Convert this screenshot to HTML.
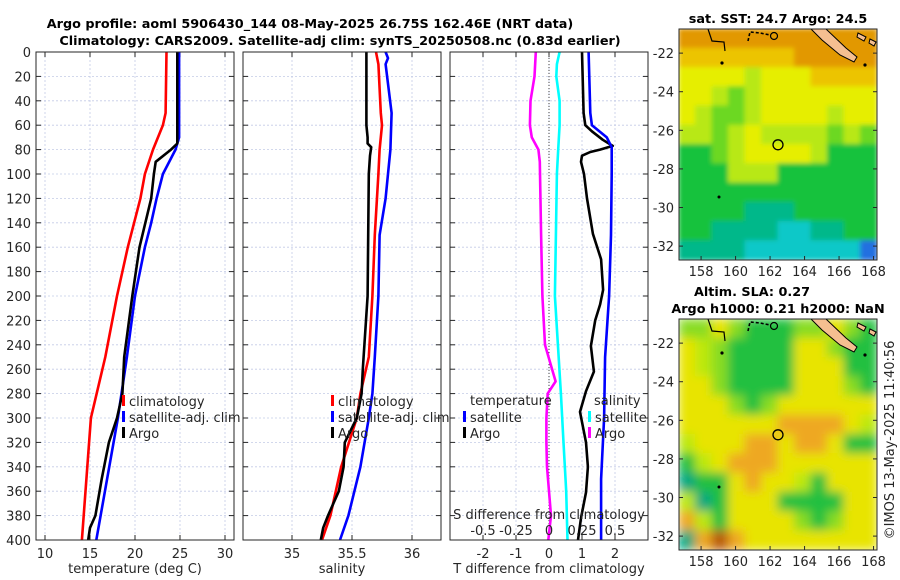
<!DOCTYPE html>
<html><head><meta charset="utf-8">
<style>
body{margin:0;background:#fff;}
svg{display:block;font-family:"DejaVu Sans","Liberation Sans",sans-serif;}
.t{font-size:13px;fill:#262626;}
.b{font-size:12.8px;font-weight:bold;fill:#000;}
</style></head><body>
<svg id="s" width="900" height="580" viewBox="0 0 900 580">
<defs>
<filter id="bl" x="0" y="0" width="1" height="1"><feGaussianBlur stdDeviation="5"/></filter>
<filter id="bl2" x="0" y="0" width="1" height="1"><feGaussianBlur stdDeviation="2.5"/></filter>
<clipPath id="c1"><rect x="679" y="29" width="198" height="231"/></clipPath>
<clipPath id="c2"><rect x="679" y="319" width="198" height="231"/></clipPath>
</defs>
<text class="b" x="310" y="28" text-anchor="middle">Argo profile: aoml 5906430_144 08-May-2025 26.75S 162.46E (NRT data)</text>
<text class="b" x="340" y="45" text-anchor="middle">Climatology: CARS2009. Satellite-adj clim: synTS_20250508.nc (0.83d earlier)</text>
<text class="b" x="778" y="23" text-anchor="middle">sat. SST: 24.7 Argo: 24.5</text>
<text class="b" x="752" y="296" text-anchor="middle">Altim. SLA: 0.27</text>
<text class="b" x="778" y="313" text-anchor="middle">Argo h1000: 0.21 h2000: NaN</text>
<text class="t" transform="translate(894,440) rotate(-90)" text-anchor="middle">©IMOS 13-May-2025 11:40:56</text>
<g id="g"></g>
</svg>
<script>
// ---- data ----
const depthTicks=[0,20,40,60,80,100,120,140,160,180,200,220,240,260,280,300,320,340,360,380,400];
const tTicks=[10,15,20,25,30];
const sTicks=[35,35.5,36];
const dTicks=[-2,-1,0,1,2];
const dsTickLabels=["-0.5","-0.25","0","0.25","0.5"];
const dsTickVals=[-0.5,-0.25,0,0.25,0.5];

const tClimDepth=[0,50,60,80,100,120,160,200,250,300,350,400];
const tClim=[23.5,23.4,23.1,22.0,21.1,20.6,19.2,18.0,16.7,15.1,14.6,14.1];
const tSatDepth=[0,70,80,100,120,140,160,200,250,300,350,400];
const tSat=[24.9,24.9,24.5,23.1,22.4,21.8,21.1,20.0,19.1,18.1,16.9,15.7];
const tArgoDepth=[0,75,80,90,100,120,160,200,250,280,300,320,350,380,390,400];
const tArgo=[24.7,24.7,24.0,22.3,22.1,21.8,20.5,19.7,18.8,18.6,18.0,17.1,16.3,15.6,15.0,14.8];

const sClimDepth=[0,10,50,60,80,100,150,200,250,280,300,340,380,400];
const sClim=[35.70,35.72,35.74,35.75,35.73,35.72,35.69,35.67,35.64,35.57,35.54,35.41,35.32,35.25];
const sSatDepth=[0,5,10,50,80,100,120,150,200,250,280,300,340,360,380,400];
const sSat=[35.78,35.80,35.78,35.83,35.82,35.80,35.78,35.73,35.72,35.69,35.67,35.64,35.57,35.52,35.47,35.40];
const sArgoDepth=[0,60,70,75,78,85,100,200,260,280,300,320,340,360,380,390,400];
const sArgo=[35.62,35.62,35.63,35.63,35.66,35.65,35.64,35.63,35.59,35.58,35.54,35.44,35.43,35.39,35.30,35.26,35.24];

const dTSatDepth=[0,50,60,70,78,100,150,200,250,300,350,400];
const dTSat=[1.2,1.25,1.3,1.75,1.9,1.9,1.88,1.82,1.7,1.67,1.58,1.58];
const dTArgoDepth=[0,50,60,65,72,77,80,82,85,90,100,120,149,170,195,207,220,241,262,278,295,320,340,361,382,400];
const dTArgo=[1.0,1.05,1.1,1.3,1.63,1.93,1.55,1.25,1.0,0.97,1.06,1.15,1.33,1.58,1.64,1.55,1.4,1.27,1.36,1.12,0.94,1.12,1.18,1.12,0.97,0.88];
const dSArgoDepth=[0,20,40,60,70,80,90,150,200,240,270,280,300,320,340,360,380,400];
const dSArgo=[-0.10,-0.11,-0.14,-0.145,-0.13,-0.08,-0.07,-0.06,-0.05,-0.03,0.05,-0.01,-0.02,-0.02,-0.015,0,0.015,-0.005];
const dSSatDepth=[0,10,20,40,60,80,100,200,280,320,360,400];
const dSSat=[0.08,0.06,0.055,0.08,0.08,0.07,0.06,0.045,0.09,0.11,0.13,0.14];

const sstRows=["OOOOOOOOOOOO","oooooooOOOOO","YYYYyYYYoooo","YYygyYYYYYYY","YyggyYYYYyYY","yygyYyyyygyg","GGgyYYYYyGGG","GGGyyyGGGGGG","GGGGGGGGGGGG","GGGGTTTGGGGG","GGTTTTCCTTGG","TTTTCCCCCCCB"];
const slaRows=["ggYgGGGggYgG","YygGGGGYYgGG","YygGGGGYYYGG","YYgGGGGYYYgG","YYYgGgYYYYYY","YYYYYYooooYy","yYYYooYooYGG","GyYoooYYYYYY","TGGYoYYyGYYY","yTGYYYGGGGYY","oyGYYYYgGgYY","ToOoYYYYYYYY"];
const palette={O:"#e29800",o:"#ecc400",Y:"#e6ee00",y:"#b8e818",g:"#6cd820",G:"#18c23c",T:"#00b88a",C:"#10c8c8",B:"#2070e0"};
const slaPalette={O:"#b85a10",o:"#eea820",Y:"#e8e400",y:"#bce810",g:"#88dc20",G:"#20c040",T:"#00a880",C:"#10c8c8",B:"#2070e0"};
const argoLon=162.46, argoLat=-26.75;
const lonTicks=[158,160,162,164,166,168];
const latTicks=[-22,-24,-26,-28,-30,-32];

// ---- helpers ----
const NS="http://www.w3.org/2000/svg";
const G=document.getElementById('g');
function mk(tag,attrs,parent){const e=document.createElementNS(NS,tag);for(const k in attrs)e.setAttribute(k,attrs[k]);(parent||G).appendChild(e);return e;}
const top0=52,bot0=540;
const yD=d=>top0+(bot0-top0)*d/400;
const xT=t=>45+(t-10)*9;
const xS=s=>292+(s-35)*120;
const xDT=t=>549+t*33;
const xDS=s=>549+s*132;

function panel(x0,name){
  const f=mk('rect',{x:x0,y:top0,width:198,height:bot0-top0,fill:'#fff',stroke:'none'});
  
  
  depthTicks.forEach(d=>{
    const l=mk('line',{x1:x0,x2:x0+198,y1:yD(d),y2:yD(d),stroke:'#c4cbe6','stroke-width':0.8,'stroke-dasharray':'2,2'});
    
    
    mk('line',{x1:x0,x2:x0+5,y1:yD(d),y2:yD(d),stroke:'#262626'});
    mk('line',{x1:x0+193,x2:x0+198,y1:yD(d),y2:yD(d),stroke:'#262626'});
  });
}
function vgrid(x){
  const l=mk('line',{x1:x,x2:x,y1:top0,y2:bot0,stroke:'#c4cbe6','stroke-width':0.8,'stroke-dasharray':'2,2'});
  
  
  mk('line',{x1:x,x2:x,y1:bot0,y2:bot0-5,stroke:'#262626'});
  mk('line',{x1:x,x2:x,y1:top0,y2:top0+5,stroke:'#262626'});
}
function frame(x0,name){
  const f=mk('rect',{x:x0,y:top0,width:198,height:bot0-top0,fill:'none',stroke:'#262626','stroke-width':1});
  
  
}
function line(depths,vals,fx,color,name){
  const pts=depths.map((d,i)=>fx(vals[i]).toFixed(1)+','+yD(d).toFixed(1)).join(' ');
  const p=mk('polyline',{points:pts,fill:'none',stroke:color,'stroke-width':2.6,'stroke-linejoin':'round'});
  
  
}
function txt(x,y,s,anchor,name,extra){
  const t=mk('text',Object.assign({x:x,y:y,'text-anchor':anchor||'start',class:'t'},extra||{}));
  t.textContent=s;
  
  
  return t;
}
function legItem(x,y,color,label,name){
  const r=mk('rect',{x:x,y:y-11,width:3,height:11,fill:color});
  
  
  txt(x+7,y,label,'start',name+'-label');
}

// panel 1
panel(36,'temperature-panel');
tTicks.forEach(t=>{vgrid(xT(t));txt(xT(t),558,String(t),'middle','temperature-tick-label');});
depthTicks.forEach(d=>txt(31,yD(d)+5,String(d),'end','depth-tick-label'));
line(tClimDepth,tClim,xT,'#ff0000','temp-climatology-line');
line(tSatDepth,tSat,xT,'#0000ff','temp-satellite-line');
line(tArgoDepth,tArgo,xT,'#000000','temp-argo-line');
frame(36,'temperature-panel');
txt(135,573,'temperature (deg C)','middle','temperature-x-axis-title');
legItem(122,406,'#ff0000','climatology','temp-legend-climatology');
legItem(122,422,'#0000ff','satellite-adj. clim','temp-legend-satellite');
legItem(122,438,'#000000','Argo','temp-legend-argo');

// panel 2
panel(243,'salinity-panel');
sTicks.forEach(s=>{vgrid(xS(s));txt(xS(s),558,String(s),'middle','salinity-tick-label');});
line(sClimDepth,sClim,xS,'#ff0000','sal-climatology-line');
line(sSatDepth,sSat,xS,'#0000ff','sal-satellite-line');
line(sArgoDepth,sArgo,xS,'#000000','sal-argo-line');
frame(243,'salinity-panel');
txt(342,573,'salinity','middle','salinity-x-axis-title');
legItem(331,406,'#ff0000','climatology','sal-legend-climatology');
legItem(331,422,'#0000ff','satellite-adj. clim','sal-legend-satellite');
legItem(331,438,'#000000','Argo','sal-legend-argo');

// panel 3
panel(450,'difference-panel');
dTicks.forEach(t=>{vgrid(xDT(t));txt(xDT(t),558,String(t),'middle','t-diff-tick-label');});
const z=mk('line',{x1:549,x2:549,y1:top0,y2:bot0,stroke:'#444','stroke-width':1,'stroke-dasharray':'1,2'});


line(dSArgoDepth,dSArgo,xDS,'#ff00ff','s-diff-argo-line');
line(dSSatDepth,dSSat,xDS,'#00ffff','s-diff-satellite-line');
line(dTArgoDepth,dTArgo,xDT,'#000000','t-diff-argo-line');
line(dTSatDepth,dTSat,xDT,'#0000ff','t-diff-satellite-line');
frame(450,'difference-panel');
txt(549,573,'T difference from climatology','middle','t-diff-x-axis-title');
txt(549,519,'S difference from climatology','middle','s-diff-axis-title');
dsTickVals.forEach((v,i)=>txt(xDS(v),535,dsTickLabels[i],'middle','s-diff-tick-label'));
txt(470,405,'temperature','start','legend-temperature-header');
legItem(463,422,'#0000ff','satellite','t-diff-legend-satellite');
legItem(463,438,'#000000','Argo','t-diff-legend-argo');
txt(594,405,'salinity','start','legend-salinity-header');
legItem(588,422,'#00ffff','satellite','s-diff-legend-satellite');
legItem(588,438,'#ff00ff','Argo','s-diff-legend-argo');

// maps
const mx0=679,mw=198,mh=231;
const lonL=156.72,lonR=168.2,latT=-20.75,latB=-32.72;
const mX=lon=>mx0+(lon-lonL)/(lonR-lonL)*mw;
function drawMap(y0,rows,pal,clip,blur,name){
  const g=mk('g',{'clip-path':'url(#'+clip+')'});
  
  
  const mY=lat=>y0+(latT-lat)/(latT-latB)*mh;
  const gi=mk('g',{filter:'url(#'+blur+')'},g);
  const nr=rows.length,nc=rows[0].length;
  const cw=mw/nc,ch=mh/nr;
  mk('rect',{x:mx0,y:y0,width:mw,height:mh,fill:pal.G},gi);
  rows.forEach((r,i)=>{for(let j=0;j<nc;j++){
    const c=mk('rect',{x:mx0+j*cw-0.5,y:y0+i*ch-0.5,width:cw+1,height:ch+1,fill:pal[r[j]]||pal.G},gi);
    
    
  }});
  const nc1=mk('polygon',{points:[[811,y0],[826,y0],[846,y0+19],[857,y0+28],[854,y0+33],[840,y0+26],[822,y0+11]].map(p=>p.join(',')).join(' '),fill:'#f5bf90',stroke:'#000','stroke-width':1},g);
  
  
  mk('polygon',{points:`858,${y0+4} 866,${y0+8} 864,${y0+12} 857,${y0+8}`,fill:'#f5bf90',stroke:'#000','stroke-width':1},g);
  mk('polygon',{points:`870,${y0+10} 876,${y0+13} 874,${y0+17} 869,${y0+14}`,fill:'#f5bf90',stroke:'#000','stroke-width':1},g);
  mk('polyline',{points:`708,${y0} 712,${y0+12} 724,${y0+13} 725,${y0+22}`,fill:'none',stroke:'#000','stroke-width':1.2},g);
  mk('polyline',{points:`748,${y0+12} 750,${y0+3} 760,${y0+4} 770,${y0+6}`,fill:'none',stroke:'#000','stroke-width':1.6,'stroke-dasharray':'3,2'},g);
  mk('circle',{cx:774,cy:y0+7,r:3.5,fill:'none',stroke:'#000','stroke-width':1.2},g);
  mk('circle',{cx:722,cy:y0+34,r:1.6,fill:'#000'},g);
  mk('circle',{cx:865,cy:y0+36,r:1.6,fill:'#000'},g);
  mk('circle',{cx:719,cy:y0+168,r:1.5,fill:'#000'},g);
  const ac=mk('circle',{cx:mX(argoLon),cy:mY(argoLat),r:5,fill:'none',stroke:'#000','stroke-width':1.3});
  
  
  const fr=mk('rect',{x:mx0,y:y0,width:mw,height:mh,fill:'none',stroke:'#262626','stroke-width':1});
  
  
  lonTicks.forEach(l=>{
    mk('line',{x1:mX(l),x2:mX(l),y1:y0+mh,y2:y0+mh-4,stroke:'#262626'});
    txt(mX(l),y0+mh+16,String(l),'middle','longitude-tick-label');
  });
  latTicks.forEach(l=>{
    mk('line',{x1:mx0,x2:mx0+4,y1:mY(l),y2:mY(l),stroke:'#262626'});
    mk('line',{x1:mx0+mw,x2:mx0+mw-4,y1:mY(l),y2:mY(l),stroke:'#262626'});
    txt(mx0-5,mY(l)+5,String(l),'end','latitude-tick-label');
  });
}
drawMap(29,sstRows,palette,'c1','bl2','sst-map');
drawMap(319,slaRows,slaPalette,'c2','bl','sla-map');
</script>
</body></html>
